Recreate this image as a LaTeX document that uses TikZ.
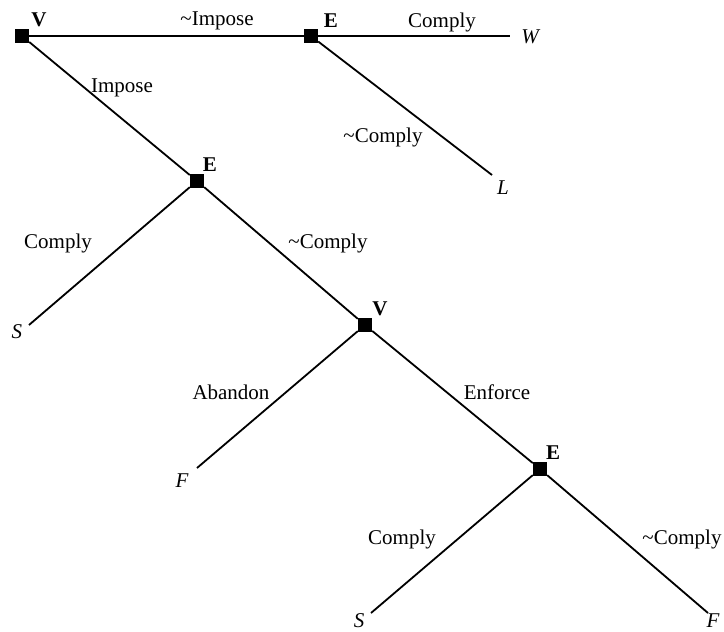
\documentclass[tikz,border=0pt]{standalone}
\usepackage{fontspec}
\setmainfont{Liberation Serif}

\begin{document}
\begin{tikzpicture}[x=1pt, y=-1pt,
    every node/.style={font=\fontsize{21}{24}\selectfont, inner sep=0pt},
    decision/.style={fill=black, minimum size=14pt},
    player/.style={font=\fontsize{21}{24}\selectfont\bfseries},
    outcome/.style={font=\fontsize{21}{24}\selectfont\itshape},
    branch/.style={line width=1.8pt}]
    \useasboundingbox (0,0) rectangle (724,632);

    % ==========================================
    % DECISION NODES
    % ==========================================
    \node[decision] (V1) at (22,36) {};
    \node[decision] (E1) at (311,36) {};
    \node[decision] (E2) at (197,181) {};
    \node[decision] (V2) at (365,325) {};
    \node[decision] (E3) at (540,469) {};

    % Player labels
    \node[player] (labV1) at (39,20) {V};
    \node[player] (labE1) at (331,21) {E};
    \node[player] (labE2) at (210,165) {E};
    \node[player] (labV2) at (380,309) {V};
    \node[player] (labE3) at (553,453) {E};

    % ==========================================
    % OUTCOMES
    % ==========================================
    \coordinate (endW) at (510,36);
    \coordinate (endL) at (492,175);
    \coordinate (endS1) at (29,325);
    \coordinate (endF1) at (197,468);
    \coordinate (endS2) at (371,613);
    \coordinate (endF2) at (708,613);

    \node[outcome] (outW) at (530,37) {W};
    \node[outcome] (outL) at (503,188) {L};
    \node[outcome] (outS1) at (17,332) {S};
    \node[outcome] (outF1) at (182,481) {F};
    \node[outcome] (outS2) at (359,621) {S};
    \node[outcome] (outF2) at (713,621) {F};

    % ==========================================
    % BRANCHES
    % ==========================================
    \draw[branch] (V1) -- (E1);
    \draw[branch] (E1) -- (endW);
    \draw[branch] (E1) -- (endL);
    \draw[branch] (V1) -- (E2);
    \draw[branch] (E2) -- (endS1);
    \draw[branch] (E2) -- (V2);
    \draw[branch] (V2) -- (endF1);
    \draw[branch] (V2) -- (E3);
    \draw[branch] (E3) -- (endS2);
    \draw[branch] (E3) -- (endF2);

    % Branch labels
    \node (notImpose) at (217,21) {\textasciitilde Impose};
    \node (complyW) at (442,22) {Comply};
    \node (impose) at (122,88) {Impose};
    \node (notComplyL) at (383,137) {\textasciitilde Comply};
    \node (complyS1) at (58,243) {Comply};
    \node (notComplyV) at (328,243) {\textasciitilde Comply};
    \node (abandon) at (231,392) {Abandon};
    \node (enforce) at (497,392) {Enforce};
    \node (complyS2) at (402,539) {Comply};
    \node (notComplyF) at (682,539) {\textasciitilde Comply};
\end{tikzpicture}
\end{document}
